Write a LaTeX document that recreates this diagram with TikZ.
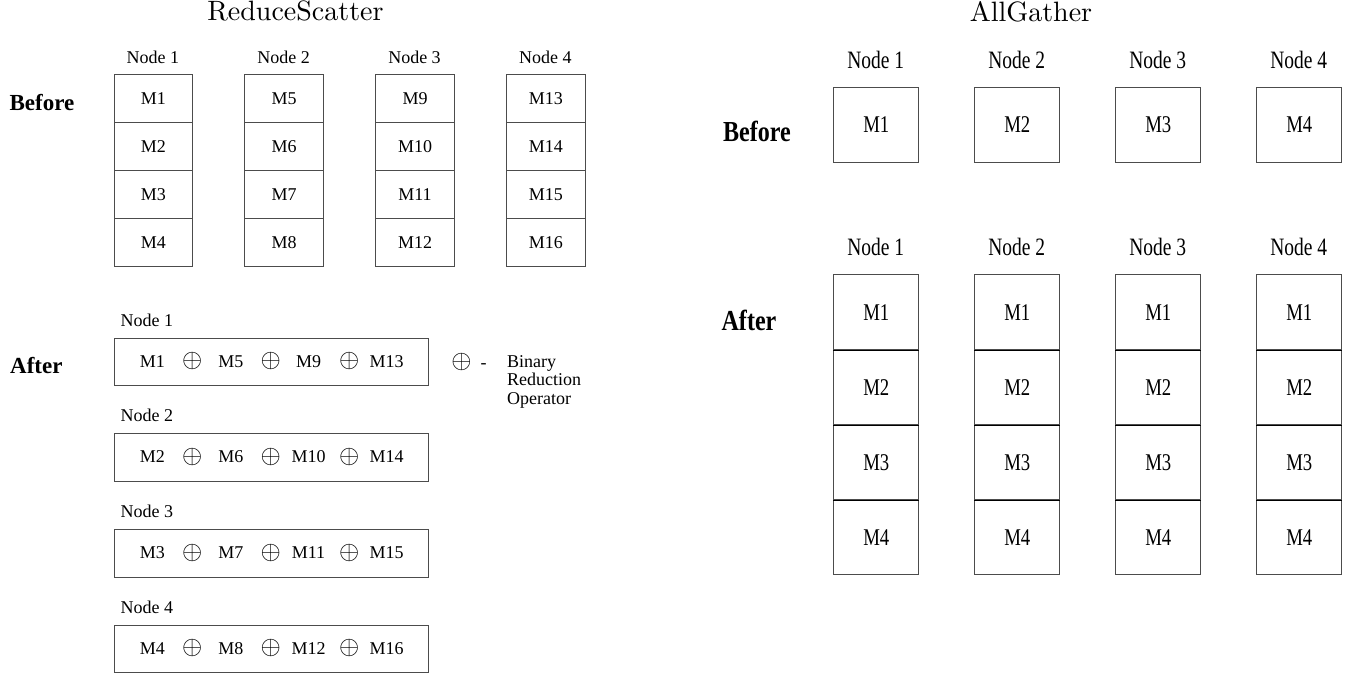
\documentclass[tikz,border=0pt]{standalone}
\usepackage{fontspec}
\setmainfont{Liberation Serif}
\usepackage{graphicx}
\newcommand\rsq[1]{\scalebox{0.78}[1]{#1}}
\newcommand\rsqb[1]{\scalebox{0.83}[1]{#1}}
\newcommand\opsym{\scalebox{2.6}{$\oplus$}}
\tikzset{
  lcell/.style={draw=black!70, line width=1pt, minimum width=78.8pt, minimum height=48pt,
    inner sep=0pt, anchor=north west, font=\fontsize{18}{21}\selectfont},
  lrow/.style={draw=black!70, line width=1pt, minimum width=314.2pt, minimum height=47.5pt,
    inner sep=0pt, anchor=north west},
  lnode/.style={inner sep=0pt, font=\fontsize{18}{21}\selectfont},
  ltxt/.style={inner sep=0pt, font=\fontsize{18}{21}\selectfont},
  optxt/.style={inner sep=0pt},
  lbold/.style={inner sep=0pt, font=\bfseries\fontsize{23}{26}\selectfont},
  rcell/.style={draw=black!70, line width=1pt, minimum width=85pt, minimum height=75pt,
    inner sep=0pt, anchor=north west, font=\fontsize{24}{28}\selectfont},
  rnode/.style={inner sep=0pt, font=\fontsize{25}{30}\selectfont},
  rbold/.style={inner sep=0pt, font=\bfseries\fontsize{29}{34}\selectfont},
  sepline/.style={draw=black, line width=1.6pt},
  ttl/.style={inner sep=0pt, anchor=base}
}
\begin{document}
\begin{tikzpicture}[x=1pt,y=-1pt]
\path[use as bounding box, fill=white] (0,0) rectangle (1354,674);

% ---------------- ReduceScatter ----------------
\node[ttl] (tRS) at (295.5,21) {\scalebox{2.8}{\fontfamily{lmr}\fontsize{10}{12}\selectfont ReduceScatter}};

\node[lbold] (lBefore) at (42,103) {Before};
\foreach \c in {1,...,4}{
  \pgfmathsetmacro\xl{113.5+130.8*(\c-1)}
  \pgfmathsetmacro\xm{\xl+39.4}
  \node[lnode] (lbn\c) at (\xm,57) {Node \c};
  \foreach \r in {1,...,4}{
    \pgfmathtruncatemacro\m{4*(\c-1)+\r}
    \pgfmathsetmacro\yt{74+48*(\r-1)}
    \node[lcell] (lb\c\r) at (\xl,\yt) {M\m};
  }
}

\node[lbold] (lAfter) at (36.4,366) {After};
\foreach \r/\yt/\yl in {1/337.5/320,2/433.2/415.7,3/529/511.7,4/624.5/607.3}{
  \pgfmathsetmacro\yc{\yt+23.75}
  \pgfmathtruncatemacro\mb{\r+4}
  \pgfmathtruncatemacro\mc{\r+8}
  \pgfmathtruncatemacro\md{\r+12}
  \node[lnode, anchor=west] (lan\r) at (120.4,\yl) {Node \r};
  \node[lrow] (la\r) at (113.8,\yt) {};
  \node[ltxt] (la\r x1) at (152.3,\yc) {M\r};
  \node[optxt] (la\r p1) at (192.3,\yc) {\opsym};
  \node[ltxt] (la\r x2) at (230.8,\yc) {M\mb};
  \node[optxt] (la\r p2) at (270.8,\yc) {\opsym};
  \node[ltxt] (la\r x3) at (308.5,\yc) {M\mc};
  \node[optxt] (la\r p3) at (349.2,\yc) {\opsym};
  \node[ltxt] (la\r x4) at (386.5,\yc) {M\md};
}

\node[optxt] (legop) at (461.5,361.5) {\opsym};
\node[ltxt] (legdash) at (483.5,366) {-};
\node[inner sep=0pt, anchor=north west, align=left, font=\fontsize{18}{18.5}\selectfont] (legtxt) at (507,355) {Binary\\Reduction\\Operator};

% ---------------- AllGather ----------------
\node[ttl] (tAG) at (1031,22) {\scalebox{2.8}{\fontfamily{lmr}\fontsize{10}{12}\selectfont AllGather}};

\node[rbold] (rBefore) at (757,131.7) {\rsqb{Before}};
\node[rbold] (rAfter) at (749,320) {\rsqb{After}};

\foreach \c in {1,...,4}{
  \pgfmathsetmacro\xl{833.3+141*(\c-1)}
  \pgfmathsetmacro\xm{\xl+42.5}
  \node[rnode] (rbn\c) at (\xm,60) {\rsq{Node \c}};
  \node[rcell, minimum height=75.3pt] (rb\c) at (\xl,86.7) {\rsq{M\c}};
  \node[rnode] (ran\c) at (\xm,246.7) {\rsq{Node \c}};
  \foreach \r in {1,...,4}{
    \pgfmathsetmacro\yt{274.3+75*(\r-1)}
    \node[rcell] (ra\c\r) at (\xl,\yt) {\rsq{M\r}};
  }
  \foreach \r in {1,2,3}{
    \draw[sepline] (ra\c\r.south west) -- (ra\c\r.south east);
  }
}
\end{tikzpicture}
\end{document}
